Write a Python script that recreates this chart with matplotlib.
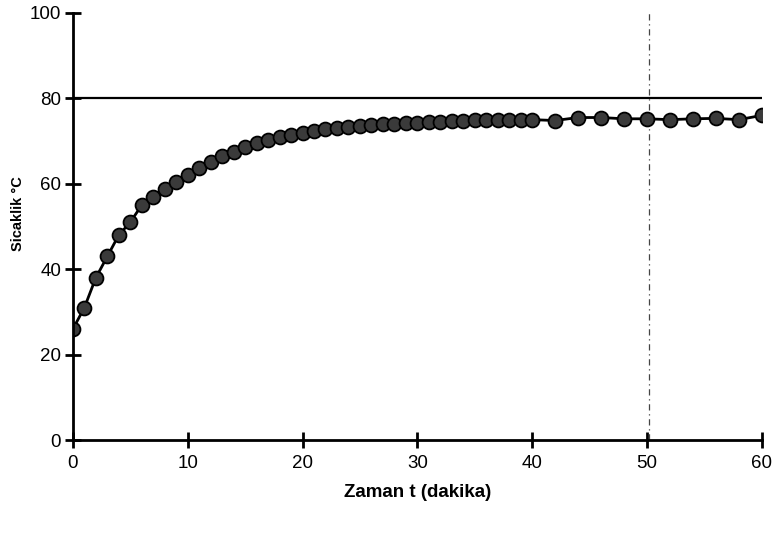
import numpy as np
import matplotlib
matplotlib.use("Agg")
import matplotlib.pyplot as plt

plt.rcParams['font.family'] = ['Liberation Sans', 'DejaVu Sans']

# okunan degerler (dakika, derece C)
zaman = [0, 1, 2, 3, 4, 5, 6, 7, 8, 9, 10, 11, 12, 13, 14, 15, 16, 17, 18, 19, 20,
         21, 22, 23, 24, 25, 26, 27, 28, 29, 30, 31, 32, 33, 34, 35, 36, 37, 38, 39, 40,
         42, 44, 46, 48, 50, 52, 54, 56, 58, 60]
sicaklik = [26, 31, 38, 43, 48, 51, 55, 57, 58.8, 60.5, 62, 63.6, 65, 66.4, 67.5, 68.5,
            69.5, 70.2, 70.9, 71.4, 71.9, 72.3, 72.7, 73.0, 73.3, 73.6, 73.8, 74.0,
            74.1, 74.2, 74.3, 74.4, 74.5, 74.6, 74.8, 75.0, 75.0, 75.0, 75.0, 75.0, 75.0,
            74.8, 75.5, 75.5, 75.2, 75.2, 75.0, 75.2, 75.3, 75.0, 76.0]
hedef = 80
dikey_t = 50.2

fig = plt.figure(figsize=(7.75, 5.33), dpi=100)
ax = fig.add_axes([0.094, 0.174, 0.889, 0.802])

ax.axhline(hedef, color='black', lw=1.6)
ax.axvline(dikey_t, color='#444444', lw=0.9, linestyle=(0, (5, 3, 1, 3)))
ax.plot(zaman, sicaklik, color='black', lw=2, marker='o', markersize=10,
        markerfacecolor='#3a3a3a', markeredgecolor='black', markeredgewidth=1.3)

ax.set_xlim(0, 60)
ax.set_ylim(0, 100)
ax.set_xticks(np.arange(0, 61, 10))
ax.set_yticks(np.arange(0, 101, 20))
for s in ['top', 'right']:
    ax.spines[s].set_visible(False)
for s in ['left', 'bottom']:
    ax.spines[s].set_linewidth(2)
ax.tick_params(direction='inout', length=11, width=2, labelsize=13.5)
ax.tick_params(axis='x', pad=5)
ax.tick_params(axis='y', pad=3)

ax.set_xlabel('Zaman t (dakika)', fontsize=13.5, fontweight='bold', labelpad=9)
ax.set_ylabel('Sicaklik °C', fontsize=10.5, fontweight='bold', labelpad=8)
ax.yaxis.set_label_coords(-0.07, 0.53)

fig.savefig('out.png', dpi=100)
